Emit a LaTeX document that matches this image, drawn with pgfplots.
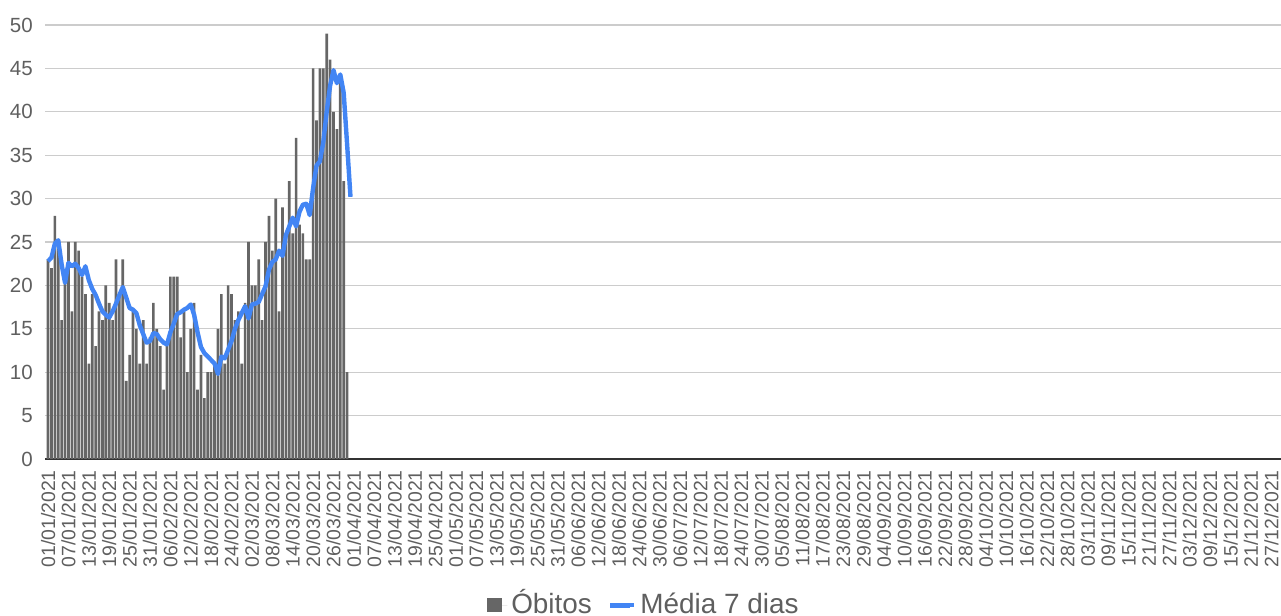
\documentclass[border=0pt]{standalone}
\usepackage{fontspec}
\setmainfont{Liberation Sans}
\usepackage{pgfplots}
\pgfplotsset{compat=1.18}
\definecolor{bargray}{HTML}{666666}
\definecolor{lineblue}{HTML}{4285F4}
\definecolor{txtgray}{HTML}{5F5F5F}
\definecolor{gridgray}{HTML}{CCCCCC}
\definecolor{axisgray}{HTML}{333333}
\begin{document}
\begin{tikzpicture}
\path[use as bounding box] (0,0) rectangle (640.5bp,308bp);
\begin{axis}[
  at={(22.5bp,78.5bp)}, anchor=south west,
  scale only axis, width=617.75bp, height=217bp,
  xmin=-0.9, xmax=362.7, ymin=0, ymax=50,
  axis x line=bottom, axis y line=left,
  x axis line style={axisgray, line width=1bp, -},
  y axis line style={draw=none},
  xtick style={draw=none}, ytick style={draw=none},
  ymajorgrids, grid style={gridgray, line width=0.6bp},
  /pgf/number format/assume math mode=true,
  ytick={0,5,...,50},
  xtick={0,6,...,360},
  xticklabels={01/01/2021,07/01/2021,13/01/2021,19/01/2021,25/01/2021,31/01/2021,06/02/2021,12/02/2021,18/02/2021,24/02/2021,02/03/2021,08/03/2021,14/03/2021,20/03/2021,26/03/2021,01/04/2021,07/04/2021,13/04/2021,19/04/2021,25/04/2021,01/05/2021,07/05/2021,13/05/2021,19/05/2021,25/05/2021,31/05/2021,06/06/2021,12/06/2021,18/06/2021,24/06/2021,30/06/2021,06/07/2021,12/07/2021,18/07/2021,24/07/2021,30/07/2021,05/08/2021,11/08/2021,17/08/2021,23/08/2021,29/08/2021,04/09/2021,10/09/2021,16/09/2021,22/09/2021,28/09/2021,04/10/2021,10/10/2021,16/10/2021,22/10/2021,28/10/2021,03/11/2021,09/11/2021,15/11/2021,21/11/2021,27/11/2021,03/12/2021,09/12/2021,15/12/2021,21/12/2021,27/12/2021},
  xticklabel style={rotate=90, anchor=east, font=\fontsize{9.75}{11}\selectfont, text=txtgray},
  yticklabel style={font=\fontsize{10.3}{12}\selectfont, text=txtgray, xshift=-0.5bp},
  legend style={at={(0.4856,-0.337)}, anchor=center, draw=none, fill=none,
    legend columns=2, font=\fontsize{14}{16}\selectfont, text=txtgray,
    nodes={text height=1.0em, text depth=0.22em},
    /tikz/every even column/.append style={column sep=6bp}},
]
\addplot[ybar, bar width=0.78, fill=bargray, draw=none,
  legend image code/.code={\path (0bp,0bp) -- (10bp,0bp);\fill[bargray] (0bp,-3.6bp) rectangle (7.4bp,3.8bp);}]
coordinates {
(0,23) (1,22) (2,28) (3,25) (4,16) (5,21) (6,25) (7,17) (8,25) (9,24)
(10,21) (11,19) (12,11) (13,19) (14,13) (15,17) (16,16) (17,20) (18,18) (19,16)
(20,23) (21,19) (22,23) (23,9) (24,12) (25,17) (26,15) (27,11) (28,16) (29,11)
(30,14) (31,18) (32,15) (33,13) (34,8) (35,13) (36,21) (37,21) (38,21) (39,14)
(40,17) (41,10) (42,15) (43,18) (44,8) (45,12) (46,7) (47,10) (48,10) (49,11)
(50,15) (51,19) (52,11) (53,20) (54,19) (55,16) (56,17) (57,11) (58,18) (59,25)
(60,20) (61,20) (62,23) (63,16) (64,25) (65,28) (66,24) (67,30) (68,17) (69,29)
(70,26) (71,32) (72,26) (73,37) (74,27) (75,26) (76,23) (77,23) (78,45) (79,39)
(80,45) (81,45) (82,49) (83,46) (84,40) (85,38) (86,44) (87,32) (88,10)
};
\addlegendentry{Óbitos}
\addplot[lineblue, line width=2.2bp, line join=round, mark=none,
  legend image code/.code={\path (0bp,0bp) -- (12bp,0bp);\draw[lineblue, line width=2.4bp] (0bp,0bp) -- (10bp,0bp);}]
coordinates {
(0,22.8) (1,23.2) (2,24.8) (3,25.2) (4,22.4) (5,20.3) (6,22.6) (7,22.2) (8,22.5) (9,22.0)
(10,21.2) (11,22.2) (12,20.6) (13,19.6) (14,18.9) (15,17.9) (16,17.0) (17,16.6) (18,16.3) (19,17.0)
(20,17.9) (21,18.9) (22,19.8) (23,18.6) (24,17.4) (25,17.2) (26,16.8) (27,15.4) (28,14.4) (29,13.4)
(30,13.6) (31,14.5) (32,14.4) (33,13.8) (34,13.4) (35,13.2) (36,14.6) (37,15.6) (38,16.7) (39,16.9)
(40,17.2) (41,17.4) (42,17.8) (43,16.6) (44,14.6) (45,12.9) (46,12.2) (47,11.8) (48,11.4) (49,11.0)
(50,9.8) (51,11.8) (52,11.6) (53,12.6) (54,13.6) (55,15.0) (56,16.0) (57,16.8) (58,17.6) (59,16.2)
(60,17.8) (61,17.9) (62,18.1) (63,19.0) (64,19.9) (65,21.8) (66,22.7) (67,23.0) (68,24.0) (69,23.4)
(70,25.8) (71,26.8) (72,27.8) (73,26.8) (74,28.5) (75,29.3) (76,29.4) (77,28.1) (78,31.2) (79,33.8)
(80,34.3) (81,36.5) (82,40.0) (83,43.0) (84,44.8) (85,43.3) (86,44.3) (87,42.2) (88,36.3) (89,30.2)
};
\addlegendentry{Média 7 dias}
\end{axis}
\end{tikzpicture}
\end{document}
